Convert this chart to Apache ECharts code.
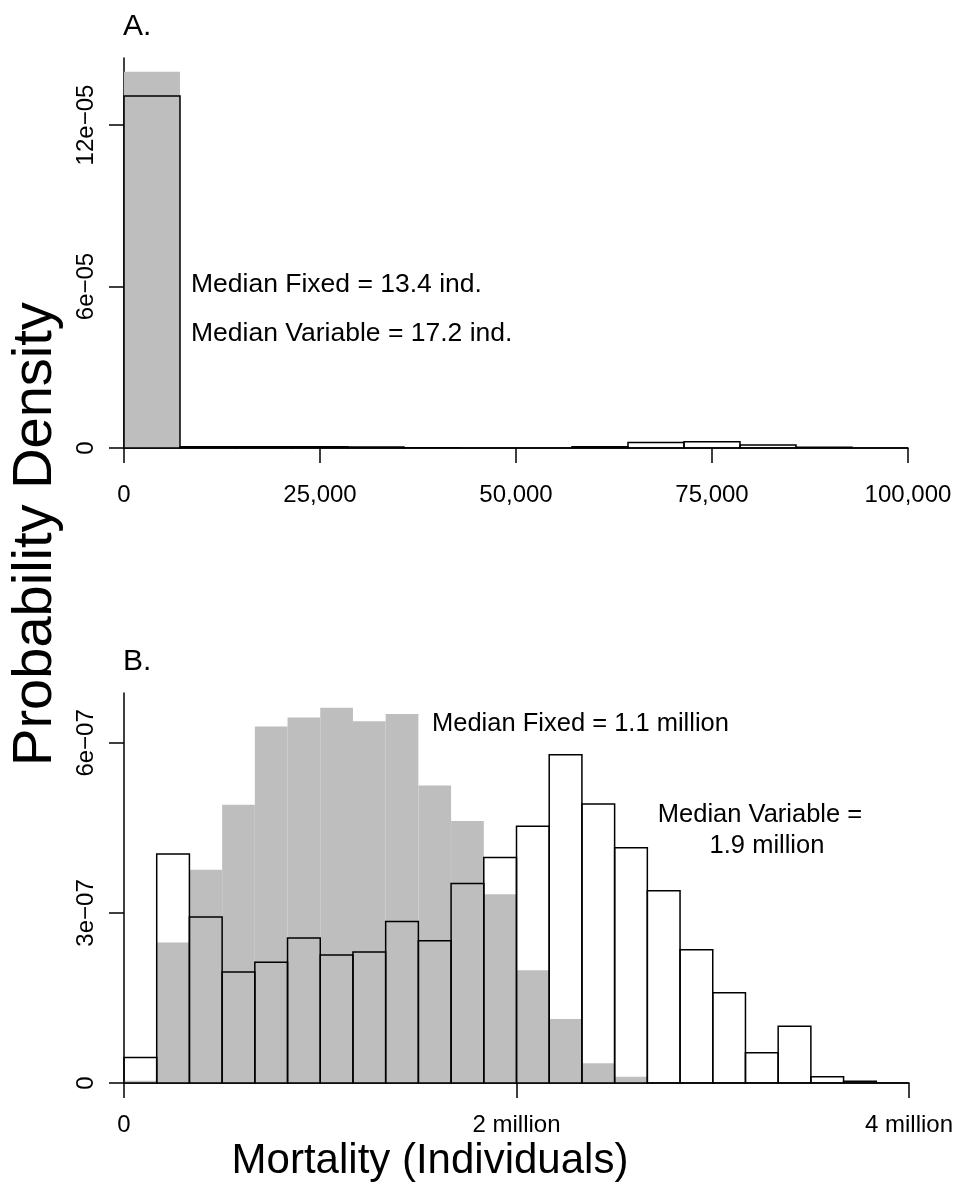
<!DOCTYPE html>
<html><head><meta charset="utf-8">
<script src="https://cdn.jsdelivr.net/npm/echarts@6/dist/echarts.min.js"></script>
<style>html,body{margin:0;padding:0;background:#fff}#c{width:961px;height:1184px}</style>
</head><body><div id="c"></div>
<script>
// ---------- Panel A data (bin edges, densities) ----------
const binEdgesA = [0, 7143, 14286, 21429, 28571, 35714, 42857, 50000, 57143, 64286, 71429, 78571, 85714, 92857, 100000];
const fixedA    = [1.398e-4, 0, 0, 0, 0, 0, 0, 0, 0, 0, 0, 0, 0, 0];
const variableA = [1.308e-4, 0.5e-6, 0.5e-6, 0.5e-6, 0.4e-6, 0.1e-6, 0, 0, 0.5e-6, 2.0e-6, 2.35e-6, 1.1e-6, 0.3e-6, 0];
const xTicksA  = [0, 25000, 50000, 75000, 100000];
const xLabelsA = ['0', '25,000', '50,000', '75,000', '100,000'];
const yTicksA  = [0, 6e-5, 12e-5];
const yLabelsA = ['0', '6e\u221205', '12e\u221205'];

// ---------- Panel B data ----------
const binEdgesB = [0, 166667, 333333, 500000, 666667, 833333, 1000000, 1166667, 1333333, 1500000, 1666667, 1833333, 2000000,
                   2166667, 2333333, 2500000, 2666667, 2833333, 3000000, 3166667, 3333333, 3500000, 3666667, 3833333, 4000000];
const fixedB    = [0.04e-7, 2.48e-7, 3.76e-7, 4.91e-7, 6.29e-7, 6.45e-7, 6.62e-7, 6.38e-7, 6.51e-7, 5.25e-7, 4.62e-7, 3.33e-7,
                   1.99e-7, 1.13e-7, 0.35e-7, 0.11e-7, 0, 0, 0, 0, 0, 0, 0, 0];
const variableB = [0.45e-7, 4.04e-7, 2.93e-7, 1.96e-7, 2.13e-7, 2.56e-7, 2.26e-7, 2.31e-7, 2.85e-7, 2.51e-7, 3.52e-7, 3.98e-7,
                   4.53e-7, 5.79e-7, 4.92e-7, 4.15e-7, 3.39e-7, 2.35e-7, 1.59e-7, 0.535e-7, 1.0e-7, 0.11e-7, 0.03e-7, 0];
const xTicksB  = [0, 2000000, 4000000];
const xLabelsB = ['0', '2 million', '4 million'];
const yTicksB  = [0, 3e-7, 6e-7];
const yLabelsB = ['0', '3e\u221207', '6e\u221207'];

// ---------- text ----------
const annA = ['Median Fixed = 13.4 ind.', 'Median Variable = 17.2 ind.'];
const annB = ['Median Fixed = 1.1 million', 'Median Variable =', '1.9 million'];
const yTitle = 'Probability Density';
const xTitle = 'Mortality (Individuals)';

const FONT = 'Liberation Sans, Arial, Helvetica, sans-serif';
const LW = 1.5;

function toBins(edges, vals) {
  return vals.map((v, i) => [edges[i], edges[i + 1], v]);
}
function barRenderer(kind) {
  return function (params, api) {
    const p0 = api.coord([api.value(0), api.value(2)]);
    const p1 = api.coord([api.value(1), 0]);
    const shape = { x: p0[0], y: p0[1], width: p1[0] - p0[0], height: p1[1] - p0[1] };
    if (kind === 'fill') {
      return { type: 'rect', shape, style: { fill: '#BEBEBE', stroke: null } };
    }
    return { type: 'rect', shape, style: { fill: 'none', stroke: '#000', lineWidth: LW } };
  };
}
function lookup(ticks, labels) {
  return v => { const i = ticks.findIndex(t => Math.abs(t - v) < 1e-12 * Math.max(1, Math.abs(t))); return i >= 0 ? labels[i] : ''; };
}
function xAxisDef(gi, max, ticks, labels, margin) {
  return {
    gridIndex: gi, type: 'value', min: 0, max: max,
    axisLine: { show: true, onZero: false, lineStyle: { color: '#000', width: LW } },
    axisTick: { show: true, inside: false, length: 15, customValues: ticks, lineStyle: { color: '#000', width: LW } },
    axisLabel: { customValues: ticks, formatter: lookup(ticks, labels), margin: margin, fontSize: 24, color: '#000', fontFamily: FONT },
    splitLine: { show: false }
  };
}
function yAxisDef(gi, max, ticks, labels) {
  return {
    gridIndex: gi, type: 'value', min: 0, max: max,
    axisLine: { show: true, onZero: false, lineStyle: { color: '#000', width: LW } },
    axisTick: { show: true, inside: false, length: 15, customValues: ticks, lineStyle: { color: '#000', width: LW } },
    axisLabel: { customValues: ticks, formatter: lookup(ticks, labels), rotate: 90, margin: 26, fontSize: 24, color: '#000', fontFamily: FONT },
    splitLine: { show: false }
  };
}
function txt(text, x, y, size, align, rot) {
  return { type: 'text', x: x, y: y, rotation: rot || 0, z: 100,
    style: { text: text, fill: '#000', font: size + 'px ' + FONT, align: align || 'left', verticalAlign: 'middle' } };
}

const chart = echarts.init(document.getElementById('c'), null, { renderer: 'canvas' });
chart.setOption({
  animation: false,
  backgroundColor: '#fff',
  grid: [
    { left: 124, right: 53, top: 58, height: 390 },
    { left: 124, right: 52, top: 693, height: 390 }
  ],
  xAxis: [ xAxisDef(0, 100000, xTicksA, xLabelsA, 35), xAxisDef(1, 4000000, xTicksB, xLabelsB, 30) ],
  yAxis: [ yAxisDef(0, 1.449e-4, yTicksA, yLabelsA), yAxisDef(1, 6.88e-7, yTicksB, yLabelsB) ],
  series: [
    { type: 'custom', name: 'Fixed A', xAxisIndex: 0, yAxisIndex: 0, z: 1, data: toBins(binEdgesA, fixedA),
      encode: { x: [0, 1], y: 2 }, renderItem: barRenderer('fill') },
    { type: 'custom', name: 'Variable A', xAxisIndex: 0, yAxisIndex: 0, z: 2, data: toBins(binEdgesA, variableA),
      encode: { x: [0, 1], y: 2 }, renderItem: barRenderer('line') },
    { type: 'custom', name: 'Fixed B', xAxisIndex: 1, yAxisIndex: 1, z: 1, data: toBins(binEdgesB, fixedB),
      encode: { x: [0, 1], y: 2 }, renderItem: barRenderer('fill') },
    { type: 'custom', name: 'Variable B', xAxisIndex: 1, yAxisIndex: 1, z: 2, data: toBins(binEdgesB, variableB),
      encode: { x: [0, 1], y: 2 }, renderItem: barRenderer('line') }
  ],
  graphic: [
    txt('A.', 123, 27, 30),
    txt('B.', 123, 662, 30),
    txt(annA[0], 191, 285, 26.5),
    txt(annA[1], 191, 334, 26.5),
    txt(annB[0], 432, 724, 25.5),
    txt(annB[1], 760, 815, 25.5, 'center'),
    txt(annB[2], 767, 846, 25.5, 'center'),
    txt(yTitle, 36, 534, 56, 'center', Math.PI / 2),
    txt(xTitle, 430, 1161, 42, 'center')
  ]
});
</script></body></html>
